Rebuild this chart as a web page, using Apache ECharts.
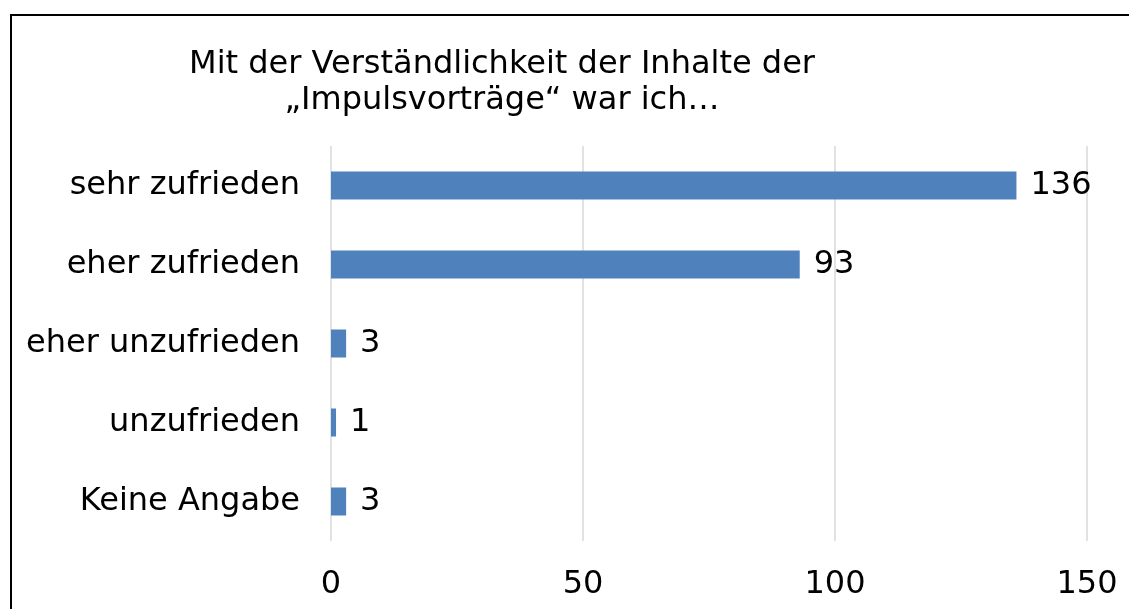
<!DOCTYPE html>
<html>
<head>
<meta charset="utf-8">
<script src="https://cdn.jsdelivr.net/npm/echarts@6/dist/echarts.min.js"></script>
<style>
html,body{margin:0;padding:0;background:#fff;}
#c{width:1129px;height:609px;}
</style>
</head>
<body>
<div id="c"></div>
<script>
const titleText = 'Mit der Verständlichkeit der Inhalte der\n„Impulsvorträge“ war ich…';
const categories = ['sehr zufrieden', 'eher zufrieden', 'eher unzufrieden', 'unzufrieden', 'Keine Angabe'];
const values = [136, 93, 3, 1, 3];
const xTicks = { min: 0, max: 150, interval: 50 };

const FONT = 'DejaVu Sans, Verdana, sans-serif';
const chart = echarts.init(document.getElementById('c'), null, { renderer: 'canvas' });
chart.setOption({
  animation: false,
  backgroundColor: '#ffffff',
  title: {
    text: titleText,
    left: 502,
    top: 47,
    padding: 0,
    textAlign: 'center',
    textStyle: { fontFamily: FONT, fontSize: 32, fontWeight: 'normal', color: '#000000', lineHeight: 36 }
  },
  graphic: [
    { type: 'line', shape: { x1: 10, y1: 15, x2: 1129, y2: 15 }, style: { stroke: '#000000', lineWidth: 2 } },
    { type: 'line', shape: { x1: 11, y1: 14, x2: 11, y2: 609 }, style: { stroke: '#000000', lineWidth: 2 } }
  ],
  grid: { left: 331, right: 42, top: 146, bottom: 68, containLabel: false },
  xAxis: {
    type: 'value',
    min: xTicks.min, max: xTicks.max, interval: xTicks.interval,
    axisLine: { show: false },
    axisTick: { show: false },
    splitLine: { show: true, lineStyle: { color: '#d9d9d9', width: 1.5 } },
    axisLabel: { fontFamily: FONT, fontSize: 32, color: '#000000', margin: 28 }
  },
  yAxis: {
    type: 'category',
    data: categories,
    inverse: true,
    axisLine: { show: false },
    axisTick: { show: false },
    splitLine: { show: false },
    axisLabel: { fontFamily: FONT, fontSize: 32, color: '#000000', margin: 31 }
  },
  series: [{
    type: 'bar',
    data: values,
    barWidth: 28,
    itemStyle: { color: '#4f81bd' },
    label: { show: true, position: 'right', distance: 14, fontFamily: FONT, fontSize: 32, color: '#000000' }
  }]
});
</script>
</body>
</html>
